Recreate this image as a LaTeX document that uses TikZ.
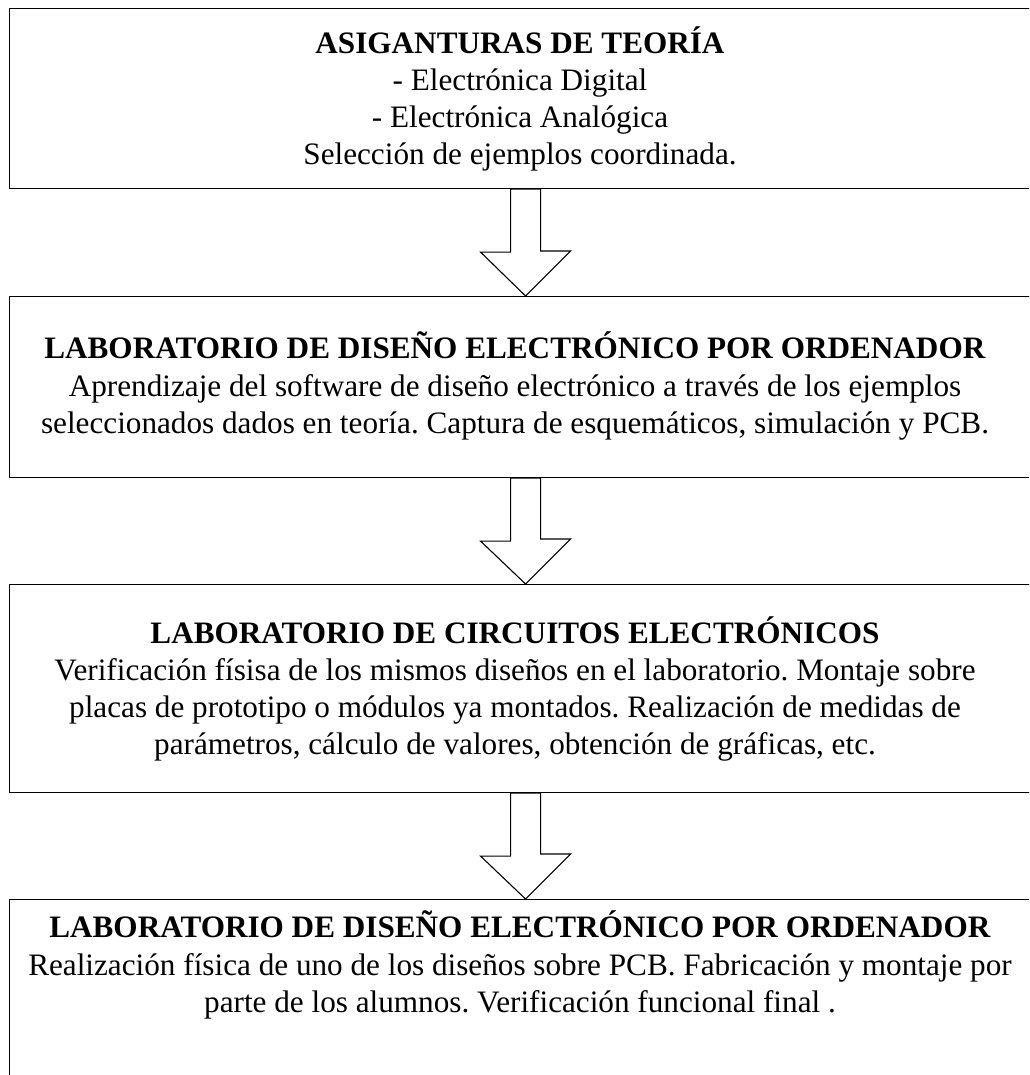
\documentclass[tikz,border=0pt]{standalone}
\usepackage{fontspec}
\setmainfont{Liberation Serif}
\usetikzlibrary{calc}
\frenchspacing
\begin{document}
\begin{tikzpicture}[x=1pt,y=-1pt,
  box/.style={draw=black,line width=1.1pt,rectangle,inner sep=0pt,anchor=north west,minimum width=1032pt},
  txt/.style={align=center,inner sep=0pt,font=\frenchspacing\fontsize{31.2}{37.2}\selectfont},
  blockarrow/.style={draw=black,line width=1.1pt,fill=white,line join=miter}]
\useasboundingbox (0,0) rectangle (1029,1075);
\clip (0,0) rectangle (1029,1075);
\fill[white] (0,0) rectangle (1029,1075);
\node[box,minimum height=180pt] (b1) at (9,8) {};
\node[box,minimum height=181pt] (b2) at (9,296) {};
\node[box,minimum height=208pt] (b3) at (9,584) {};
\node[box,minimum height=200pt] (b4) at (9,899) {};
\node[txt] (t1) at (520,99) {\textbf{ASIGANTURAS DE TEORÍA}\\- Electrónica Digital\\- Electrónica Analógica\\Selección de ejemplos coordinada.};
\node[txt] (t2) at (515,386) {\textbf{LABORATORIO DE DISEÑO ELECTRÓNICO POR ORDENADOR}\\Aprendizaje del software de diseño electrónico a través de los ejemplos\\seleccionados dados en teoría. Captura de esquemáticos, simulación y PCB.};
\node[txt] (t3) at (515,689) {\textbf{LABORATORIO DE CIRCUITOS ELECTRÓNICOS}\\Verificación físisa de los mismos diseños en el laboratorio. Montaje sobre\\placas de prototipo o módulos ya montados. Realización de medidas de\\parámetros, cálculo de valores, obtención de gráficas, etc.};
\node[txt] (t4) at (520,965) {\textbf{LABORATORIO DE DISEÑO ELECTRÓNICO POR ORDENADOR}\\Realización física de uno de los diseños sobre PCB. Fabricación y montaje por\\parte de los alumnos. Verificación funcional final .};
\foreach \a/\b in {b1/b2,b2/b3,b3/b4}{
  \draw[blockarrow] ($(\a.south)+(-15,0)$) -- ++(0,63) -- ++(-30,0) -- (\b.north) -- ++(45,-45) -- ++(-30,0) -- ($(\a.south)+(15,0)$) -- cycle;
}
\end{tikzpicture}
\end{document}
